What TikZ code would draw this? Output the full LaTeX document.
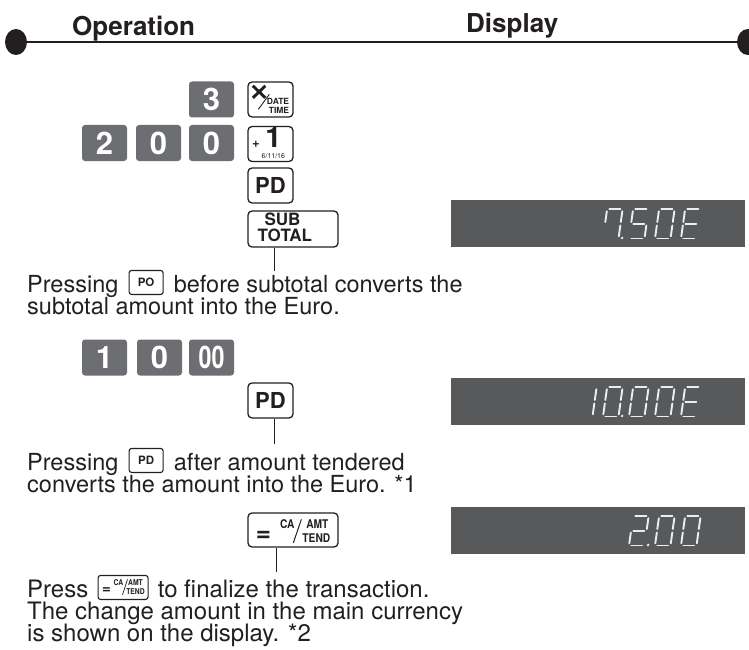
\documentclass[tikz,border=0pt]{standalone}
\usepackage{fontspec}
\setmainfont{TeX Gyre Heros}
\usetikzlibrary{calc,shapes.geometric}
\definecolor{keygray}{HTML}{6D6E71}
\definecolor{dispgray}{HTML}{58595B}
\definecolor{seggray}{HTML}{EDEDED}
\definecolor{inkblack}{HTML}{231F20}
\tikzset{
 darkkey/.style={fill=keygray, rounded corners=3pt, minimum width=45pt, minimum height=36pt, inner sep=0pt, text=white, font=\fontsize{31}{31}\selectfont\bfseries},
 keybox/.style={draw=inkblack, line width=1.3pt, rounded corners=4pt, minimum width=45pt, minimum height=35pt, inner sep=0pt, font=\fontsize{22}{22}\selectfont\bfseries, text=inkblack},
 widekey/.style={keybox, minimum width=90pt},
 minikey/.style={draw=inkblack, line width=1.1pt, rounded corners=2.5pt, minimum width=34pt, minimum height=24pt, inner sep=0pt, font=\fontsize{11.5}{11.5}\selectfont\bfseries, text=inkblack},
 txt/.style={inner sep=0pt, font=\fontsize{23.5}{21}\selectfont, text=inkblack},
 txtb/.style={inner sep=0pt, font=\fontsize{24}{21}\selectfont, text=inkblack},
 head/.style={inner sep=0pt, font=\fontsize{26}{26}\selectfont\bfseries, text=inkblack},
 lbl/.style={inner sep=0pt, text=inkblack},
 display/.style={fill=dispgray, minimum width=294pt, minimum height=47pt, inner sep=0pt},
 seg/.style={draw=seggray, line width=1.9pt, line cap=round},
 conn/.style={draw=inkblack, line width=1pt},
 bigdot/.style={ellipse, fill=inkblack, minimum width=22pt, minimum height=26pt, inner sep=0pt},
}
\newcommand\sgA{\draw[seg] (2.3,-29.5) -- (13.2,-29.5);}
\newcommand\sgB{\draw[seg] (15.5,-27.3) -- (15.5,-16.5);}
\newcommand\sgC{\draw[seg] (15.5,-13) -- (15.5,-2.2);}
\newcommand\sgD{\draw[seg] (2.3,0) -- (13.2,0);}
\newcommand\sgE{\draw[seg] (0,-13) -- (0,-2.2);}
\newcommand\sgF{\draw[seg] (0,-27.3) -- (0,-16.5);}
\newcommand\sgG{\draw[seg] (2.3,-14.75) -- (13.2,-14.75);}
\newcommand\sgP{\fill[seggray] (19,-0.5) circle (1.4pt);}
\newcommand\digitat[3]{\begin{scope}[shift={(#1,#2)},xslant=0.14]#3\end{scope}}
\newcommand\dSeven{\sgA\sgB\sgC\sgF}
\newcommand\dFive{\sgA\sgF\sgG\sgC\sgD}
\newcommand\dZero{\sgA\sgB\sgC\sgD\sgE\sgF}
\newcommand\dE{\sgA\sgF\sgG\sgE\sgD}
\newcommand\dOne{\sgB\sgC}
\newcommand\dTwo{\sgA\sgB\sgG\sgE\sgD}
\begin{document}
\begin{tikzpicture}[x=1pt,y=-1pt]
\useasboundingbox (0,0) rectangle (749,650);
% header
\node[bigdot] (dotl) at (16,42) {};
\node[bigdot] (dotr) at (748,42) {};
\draw[line width=1.5pt, inkblack] (dotl.center) -- (dotr.center);
\node[head, anchor=base west] (hop) at (72,36) {Operation};
\node[head, anchor=base west] (hdi) at (466,33) {Display};

% first group of keys
\node[darkkey] (k3) at (211.5,99.5) {3};
\node[keybox] (kx) at (270.5,99.5) {};
\draw[inkblack, line width=2.9pt] ($(kx.north west)+(5.5,4.5)$) -- ($(kx.north west)+(18,16.5)$);
\draw[inkblack, line width=2.9pt] ($(kx.north west)+(5.5,16.5)$) -- ($(kx.north west)+(18,4.5)$);
\draw[inkblack, line width=0.9pt] ($(kx.north west)+(11,28)$) -- ($(kx.north west)+(22,13)$);
\node[lbl, font=\fontsize{8.5}{8.5}\selectfont\bfseries, anchor=base east] (kxb) at ($(kx.north west)+(42,23)$) {DATE};
\node[lbl, font=\fontsize{8.5}{8.5}\selectfont\bfseries, anchor=base east] (kxc) at ($(kx.north west)+(42,32)$) {TIME};

\node[darkkey] (k2) at (104.5,143) {2};
\node[darkkey] (k0a) at (158.5,143) {0};
\node[darkkey] (k0b) at (211.5,143) {0};
\node[keybox] (kp) at (270.5,144) {};
\node[lbl, font=\fontsize{13}{13}\selectfont\bfseries] (kpa) at ($(kp.north west)+(8.5,18.5)$) {+};
\node[lbl, font=\fontsize{29}{29}\selectfont\bfseries, anchor=base] (kpb) at ($(kp.north west)+(26,22)$) {1};
\node[lbl, font=\fontsize{7}{7}\selectfont, anchor=base] (kpc) at ($(kp.north west)+(26,32.5)$) {6/11/16};

\node[keybox] (kpd1) at (270.5,185.5) {PD};
\node[widekey, minimum height=36pt] (ksub) at (293,229) {};
\node[lbl, font=\fontsize{17}{17}\selectfont\bfseries, anchor=base west] (ksa) at ($(ksub.north west)+(17,15)$) {SUB};
\node[lbl, font=\fontsize{17}{17}\selectfont\bfseries, anchor=base west] (ksb) at ($(ksub.north west)+(10,31.5)$) {TOTAL};
\coordinate (c1) at (274,271);
\draw[conn] (ksub.south -| c1) -- (c1);

\node[display] (d1) at (598,223.5) {};
\digitat{603}{238.5}{\dSeven\sgP}
\digitat{629}{238.5}{\dFive}
\digitat{655}{238.5}{\dZero}
\digitat{681}{238.5}{\dE}

% text 1
\node[txt, anchor=base west] (t1a) at (27,292) {Pressing};
\node[minikey, anchor=south west] (t1k) at ($(t1a.base east)+(10,3)$) {PO};
\node[txt, anchor=base west] (t1b) at ($(t1a.base east)+(55,0)$) {before subtotal converts the};
\node[txt, anchor=base west] (t1c) at (27,314.5) {subtotal amount into the Euro.};

% second group
\node[darkkey] (k1) at (104.5,357.5) {1};
\node[darkkey] (k0c) at (159.5,357.5) {0};
\node[darkkey] (k00) at (211.5,357.5) {\scalebox{0.75}[1]{00}};
\node[keybox] (kpd2) at (270.5,400.5) {PD};
\coordinate (c2) at (274,444);
\draw[conn] (kpd2.south -| c2) -- (c2);

\node[display] (d2) at (598,401.5) {};
\digitat{577}{416.5}{\dOne}
\digitat{603}{416.5}{\dZero\sgP}
\digitat{629}{416.5}{\dZero}
\digitat{655}{416.5}{\dZero}
\digitat{681}{416.5}{\dE}

% text 2
\node[txt, anchor=base west] (t2a) at (27,470) {Pressing};
\node[minikey, anchor=south west] (t2k) at ($(t2a.base east)+(10,3)$) {PD};
\node[txt, anchor=base west] (t2b) at ($(t2a.base east)+(55,0)$) {after amount tendered};
\node[txt, anchor=base west] (t2c) at (27,492.5) {converts the amount into the Euro. *1};

% third group
\node[widekey, minimum height=34pt] (kca) at (293,530) {};
\node[lbl, font=\fontsize{26}{26}\selectfont\bfseries] (kca1) at ($(kca.north west)+(16,24)$) {=};
\node[lbl, font=\fontsize{12}{12}\selectfont\bfseries] (kca2) at ($(kca.north west)+(40,11.5)$) {\scalebox{0.85}[1]{CA}};
\draw[inkblack, line width=1pt] ($(kca.north west)+(46,30.5)$) -- ($(kca.north west)+(54,7)$);
\node[lbl, font=\fontsize{12}{12}\selectfont\bfseries] (kca3) at ($(kca.north west)+(70,11.5)$) {\scalebox{0.85}[1]{AMT}};
\node[lbl, font=\fontsize{12}{12}\selectfont\bfseries] (kca4) at ($(kca.north west)+(69,26)$) {\scalebox{0.85}[1]{TEND}};
\coordinate (c3) at (276,572);
\draw[conn] (kca.south -| c3) -- (c3);

\node[display] (d3) at (598,530.5) {};
\digitat{629}{545.5}{\dTwo\sgP}
\digitat{655}{545.5}{\dZero}
\digitat{681}{545.5}{\dZero}

% text 3
\node[txtb, anchor=base west] (t3a) at (27,597) {Press};
\node[minikey, minimum width=50pt, anchor=south west] (t3k) at ($(t3a.base east)+(9,3)$) {};
\node[lbl, font=\fontsize{15}{15}\selectfont\bfseries] (t3k1) at ($(t3k.north west)+(9,15.5)$) {=};
\node[lbl, font=\fontsize{8}{8}\selectfont\bfseries] (t3k2) at ($(t3k.north west)+(21,7.5)$) {\scalebox{0.85}[1]{CA}};
\draw[inkblack, line width=0.7pt] ($(t3k.north west)+(25,20)$) -- ($(t3k.north west)+(30,4.5)$);
\node[lbl, font=\fontsize{8}{8}\selectfont\bfseries] (t3k3) at ($(t3k.north west)+(38,7.5)$) {\scalebox{0.85}[1]{AMT}};
\node[lbl, font=\fontsize{8}{8}\selectfont\bfseries] (t3k4) at ($(t3k.north west)+(38,16.5)$) {\scalebox{0.85}[1]{TEND}};
\node[txtb, anchor=base west] (t3b) at ($(t3k.south east)+(9,-3)$) {to finalize the transaction.};
\node[txtb, anchor=base west] (t3c) at (27,619) {The change amount in the main currency};
\node[txtb, anchor=base west] (t3d) at (27,641) {is shown on the display. *2};
\end{tikzpicture}
\end{document}
